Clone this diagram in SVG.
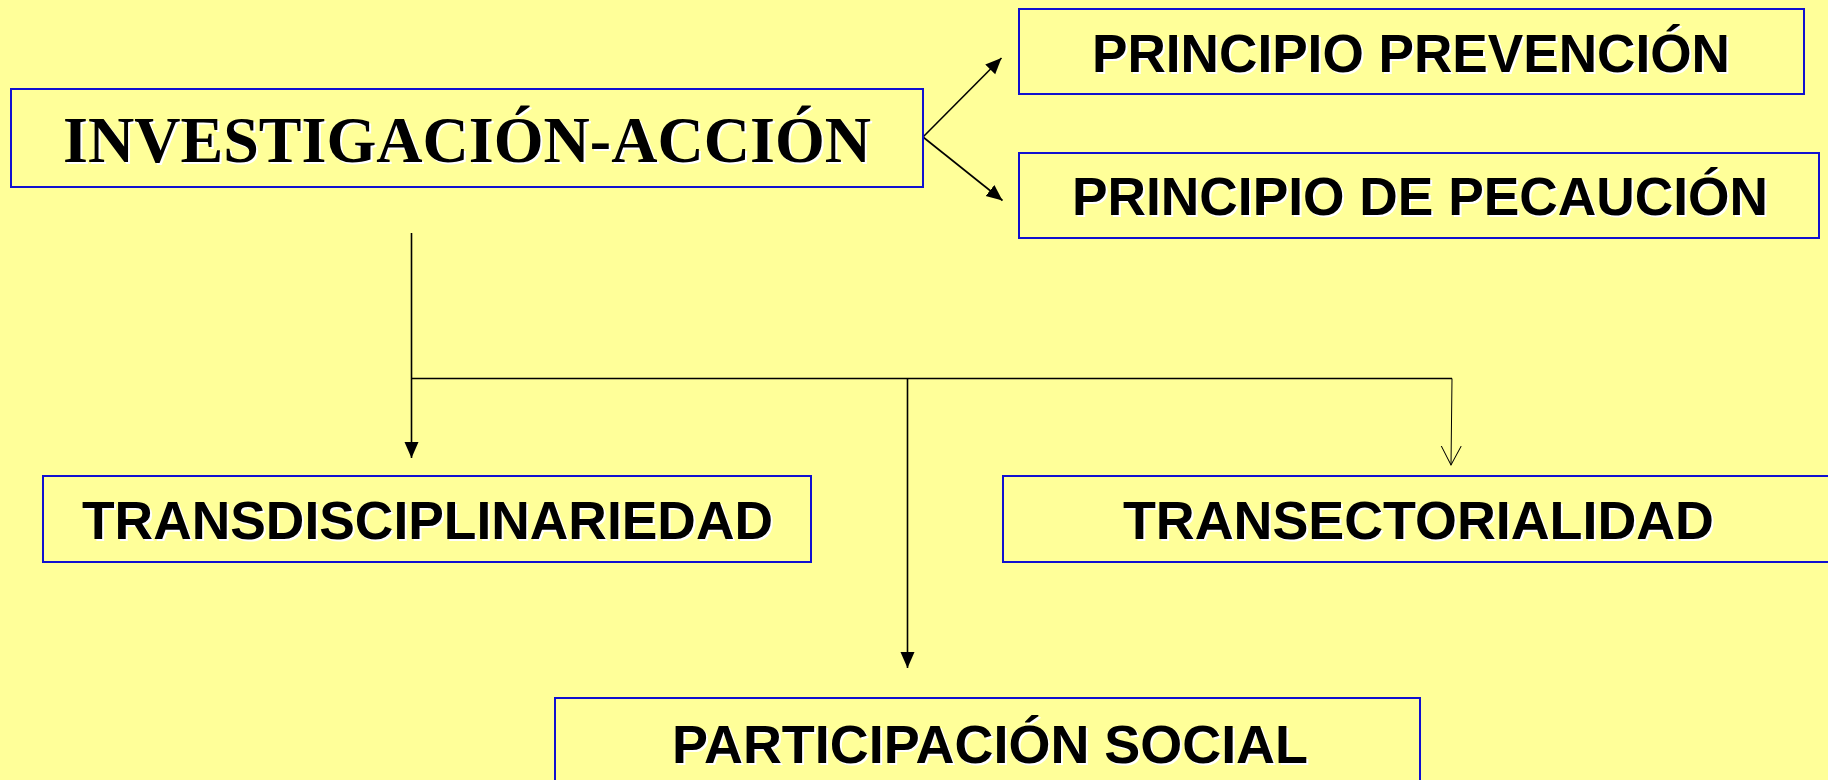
<svg xmlns="http://www.w3.org/2000/svg" width="1828" height="780" viewBox="0 0 1828 780">
<style>
.box{fill:#FFFF99;stroke:#1010D0;stroke-width:2}
.sans{font-family:"Liberation Sans",Arial,sans-serif;font-weight:bold;font-size:53px}
.serif{font-family:"Liberation Serif","Times New Roman",serif;font-weight:bold;font-size:65px}
.sh{fill:#FFFFFF}
.tx{fill:#000000}
.ln{fill:none;stroke:#000000;stroke-width:1.6}
.thin{fill:none;stroke:#000000;stroke-width:1}
</style>
<defs>
<marker id="arr" markerUnits="userSpaceOnUse" markerWidth="17" markerHeight="15" refX="16" refY="7" orient="auto">
<path d="M0,0 L16,7 L0,14 z" fill="#000000"/>
</marker>
<marker id="open" markerUnits="userSpaceOnUse" markerWidth="21" markerHeight="22" refX="19" refY="10.5" orient="auto">
<path d="M0,0.5 L19,10.5 L0,20.5" fill="none" stroke="#000000" stroke-width="1"/>
</marker>
</defs>
<rect x="0" y="0" width="1828" height="780" fill="#FFFF99"/>

<g id="connectors">
<line class="ln" x1="923" y1="137" x2="1001.5" y2="58" marker-end="url(#arr)"/>
<line class="ln" x1="923" y1="137" x2="1002.5" y2="200.5" marker-end="url(#arr)"/>
<line class="ln" x1="411.5" y1="233" x2="411.5" y2="458" marker-end="url(#arr)"/>
<line class="ln" x1="411.5" y1="378.5" x2="1452" y2="378.5"/>
<line class="ln" x1="907.5" y1="378.5" x2="907.5" y2="668" marker-end="url(#arr)"/>
<path class="thin" d="M1452,378.5 L1451,465" marker-end="url(#open)"/>
</g>

<g id="investigacion">
<rect class="box" x="11" y="89" width="912" height="98"/>
<text class="serif sh" x="65" y="163.5" textLength="808" lengthAdjust="spacingAndGlyphs">INVESTIGACIÓN-ACCIÓN</text>
<text class="serif tx" x="63" y="161.5" textLength="808" lengthAdjust="spacingAndGlyphs">INVESTIGACIÓN-ACCIÓN</text>
</g>

<g id="prevencion">
<rect class="box" x="1019" y="9" width="785" height="85"/>
<text class="sans sh" x="1094" y="74" textLength="638" lengthAdjust="spacingAndGlyphs">PRINCIPIO PREVENCIÓN</text>
<text class="sans tx" x="1092" y="72" textLength="638" lengthAdjust="spacingAndGlyphs">PRINCIPIO PREVENCIÓN</text>
</g>

<g id="precaucion">
<rect class="box" x="1019" y="153" width="800" height="85"/>
<text class="sans sh" x="1074" y="217" textLength="696" lengthAdjust="spacingAndGlyphs">PRINCIPIO DE PECAUCIÓN</text>
<text class="sans tx" x="1072" y="215" textLength="696" lengthAdjust="spacingAndGlyphs">PRINCIPIO DE PECAUCIÓN</text>
</g>

<g id="transdisciplinariedad">
<rect class="box" x="43" y="476" width="768" height="86"/>
<text class="sans sh" x="84" y="541" textLength="691" lengthAdjust="spacingAndGlyphs">TRANSDISCIPLINARIEDAD</text>
<text class="sans tx" x="82" y="539" textLength="691" lengthAdjust="spacingAndGlyphs">TRANSDISCIPLINARIEDAD</text>
</g>

<g id="transectorialidad">
<rect class="box" x="1003" y="476" width="835" height="86"/>
<text class="sans sh" x="1125" y="541" textLength="591" lengthAdjust="spacingAndGlyphs">TRANSECTORIALIDAD</text>
<text class="sans tx" x="1123" y="539" textLength="591" lengthAdjust="spacingAndGlyphs">TRANSECTORIALIDAD</text>
</g>

<g id="participacion">
<rect class="box" x="555" y="698" width="865" height="100"/>
<text class="sans sh" x="674" y="764.5" textLength="636" lengthAdjust="spacingAndGlyphs">PARTICIPACIÓN SOCIAL</text>
<text class="sans tx" x="672" y="762.5" textLength="636" lengthAdjust="spacingAndGlyphs">PARTICIPACIÓN SOCIAL</text>
</g>
</svg>
